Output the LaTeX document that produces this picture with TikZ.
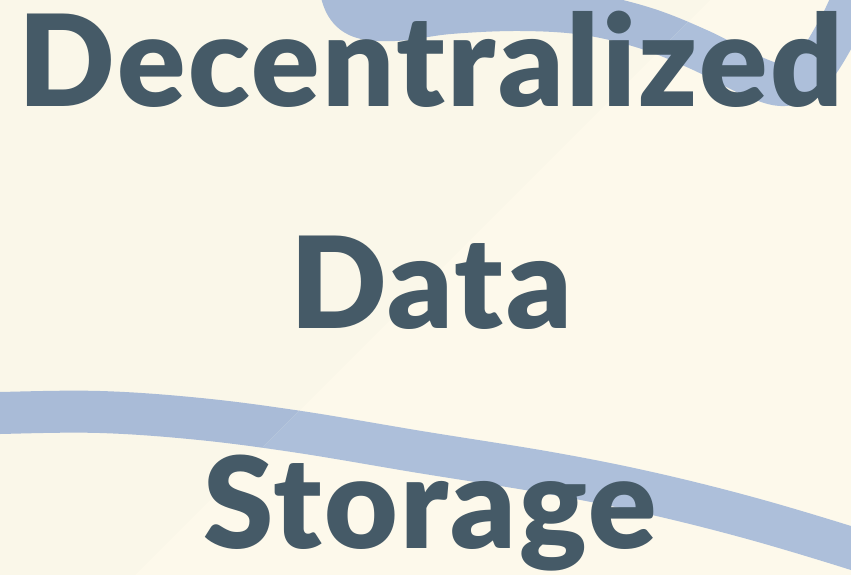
\documentclass[tikz,border=0pt]{standalone}
\usepackage{fontspec}
\setmainfont{Lato Black}[LetterSpace=2]
\definecolor{creamA}{HTML}{FAF7E9}
\definecolor{creamB}{HTML}{FDF9EB}
\definecolor{bandA}{HTML}{A9BBD7}
\definecolor{bandB}{HTML}{ADBFDA}
\definecolor{slate}{HTML}{455A67}
\begin{document}
\begin{tikzpicture}[x=1pt,y=-1pt,
  band/.style={line width=42pt, line cap=round, line join=round},
  title/.style={font=\fontsize{127}{127}\selectfont, text=slate,
                inner sep=0pt, anchor=base}]
\useasboundingbox (0,0) rectangle (851,575);
% two-tone background split along a diagonal
\fill[creamA] (0,0) rectangle (851,575);
\fill[creamB] (710,0) -- (851,0) -- (851,575) -- (135,575) -- cycle;
% wavy bands, slightly darker on the upper-left side
\begin{scope}
  \clip (-100,-100) -- (810,-100) -- (35,675) -- (-100,675) -- cycle;
  \draw[band, bandA] plot[smooth, tension=0.6] coordinates {
    (342,-40) (342,-5) (358,16) (395,20) (450,13) (520,10) (585,14)
    (645,28) (700,50) (750,75) (785,85) (812,70) (835,35) (850,5) (862,-25)};
  \draw[band, bandA] plot[smooth, tension=0.6] coordinates {
    (-40,415) (0,413) (100,412) (200,419) (300,432) (420,452)
    (550,473) (650,493) (750,518) (851,548) (900,565)};
\end{scope}
\begin{scope}
  \clip (810,-100) -- (1000,-100) -- (1000,675) -- (35,675) -- cycle;
  \draw[band, bandB] plot[smooth, tension=0.6] coordinates {
    (342,-40) (342,-5) (358,16) (395,20) (450,13) (520,10) (585,14)
    (645,28) (700,50) (750,75) (785,85) (812,70) (835,35) (850,5) (862,-25)};
  \draw[band, bandB] plot[smooth, tension=0.6] coordinates {
    (-40,415) (0,413) (100,412) (200,419) (300,432) (420,452)
    (550,473) (650,493) (750,518) (851,548) (900,565)};
\end{scope}
% title, three lines
\node[title] (t1) at (431,107) {Decentralized};
\node[title] (t2) at (431,328) {Data};
\node[title] (t3) at (430,548) {Storage};
\end{tikzpicture}
\end{document}
